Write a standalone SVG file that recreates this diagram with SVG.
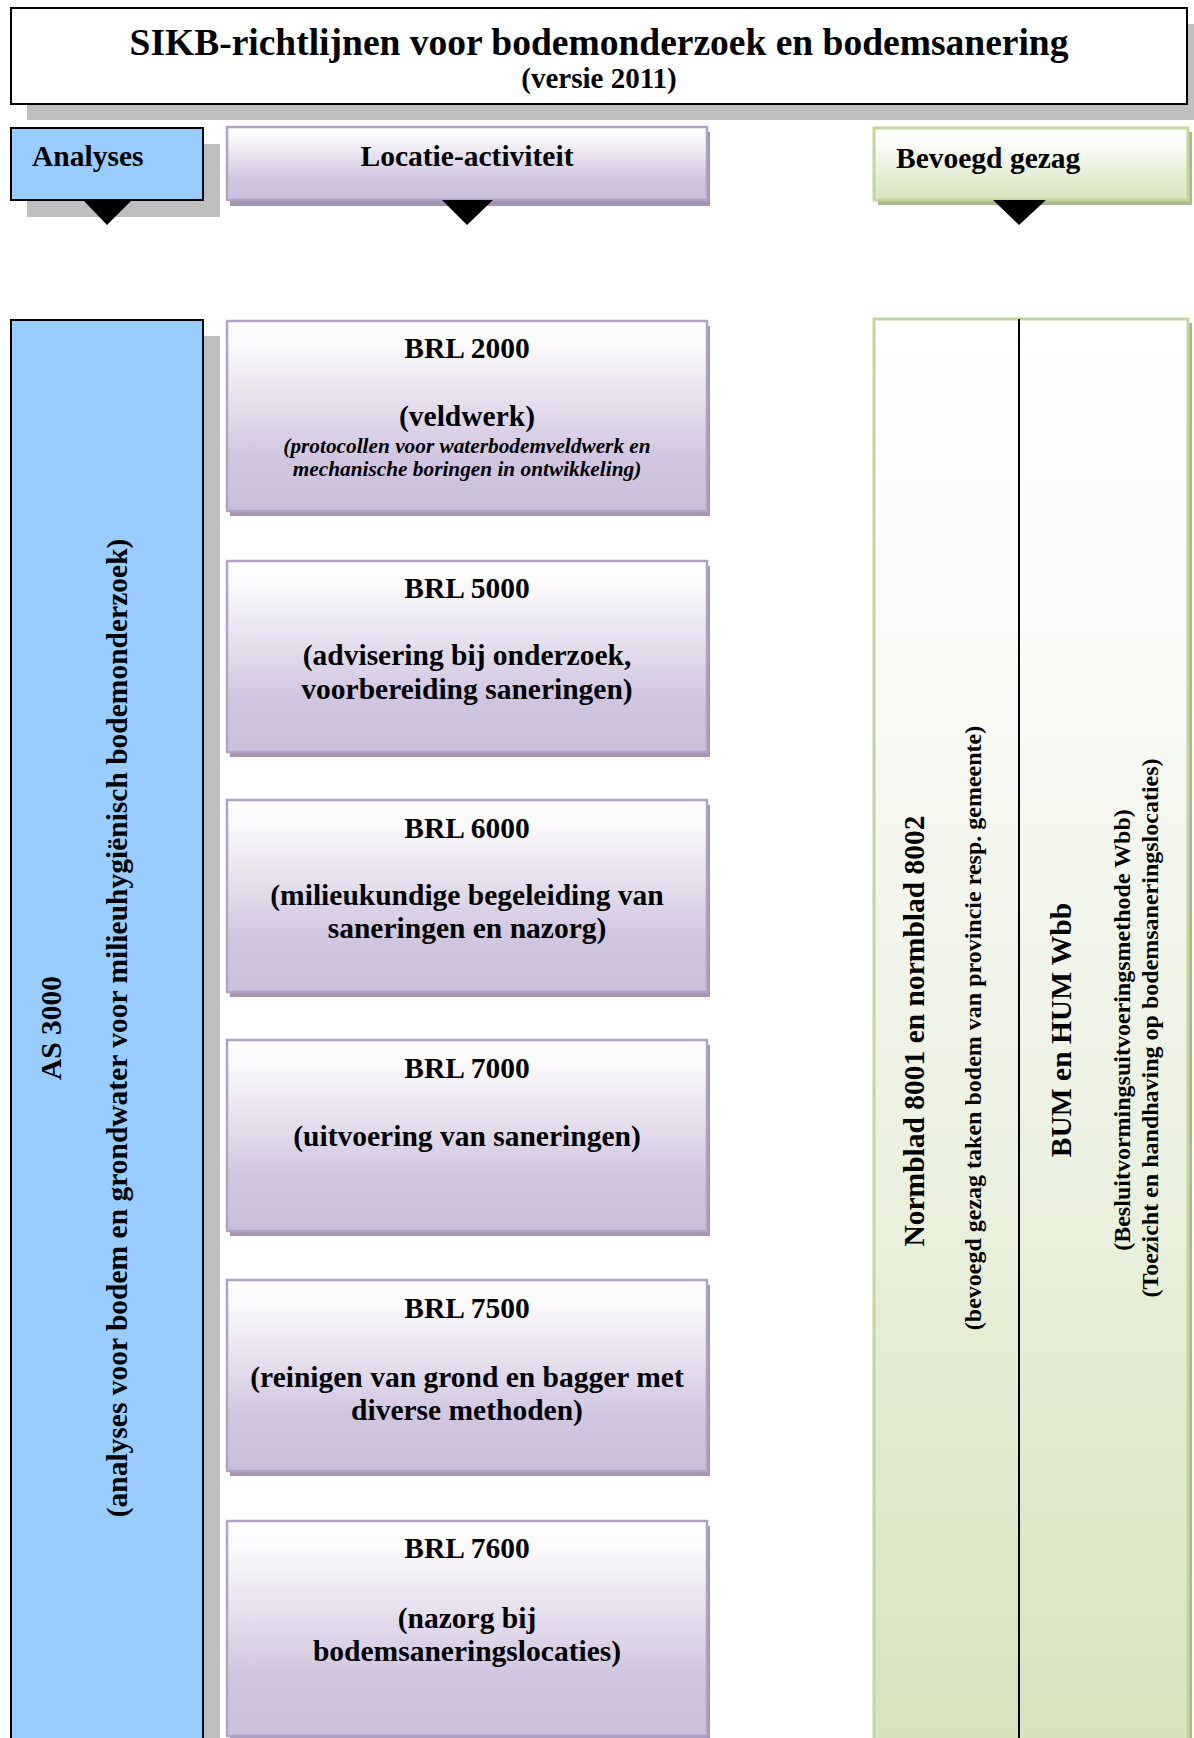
<svg xmlns="http://www.w3.org/2000/svg" width="1194" height="1738" viewBox="0 0 1194 1738">
<style>
text{font-family:"Liberation Serif","Times New Roman",serif;font-weight:bold;fill:#000}
.t{font-size:37.5px}
.sub{font-size:29px}
.h{font-size:29.5px}
.c{text-anchor:middle}
.it{font-size:21.3px;font-style:italic}
.sm{font-size:24px}
.gshadow{fill:#bfbfbf}
.blue{fill:#99ccff;stroke:#000;stroke-width:2}
.lav{fill:url(#gLav);stroke:#b3a2c7;stroke-width:2.5}
.lavsh{fill:#a396b3}
.grn{stroke:#c3d69b;stroke-width:3}
.grnsh{fill:#a9b98d}
.tri{fill:#000}
</style>
<defs>
<linearGradient id="gLav" x1="0" y1="0" x2="0" y2="1">
<stop offset="0" stop-color="#ffffff"/>
<stop offset="0.12" stop-color="#fbfafc"/>
<stop offset="0.72" stop-color="#d2c5df"/>
<stop offset="1" stop-color="#ccbfda"/>
</linearGradient>
<linearGradient id="gGrnH" x1="0" y1="0" x2="0" y2="1">
<stop offset="0" stop-color="#ffffff"/>
<stop offset="0.2" stop-color="#fbfcf8"/>
<stop offset="1" stop-color="#d7e4bd"/>
</linearGradient>
<linearGradient id="gGrnB" x1="0" y1="0" x2="0" y2="1">
<stop offset="0" stop-color="#ffffff"/>
<stop offset="0.2" stop-color="#fbfbf9"/>
<stop offset="0.6" stop-color="#ebf1df"/>
<stop offset="1" stop-color="#d6e3bc"/>
</linearGradient>
</defs>

<g id="title">
<rect class="gshadow" x="27" y="24" width="1176" height="96"/>
<rect x="11" y="8" width="1176" height="96" fill="#fff" stroke="#000" stroke-width="2"/>
<text class="t c" x="599" y="55">SIKB-richtlijnen voor bodemonderzoek en bodemsanering</text>
<text class="sub c" x="599" y="88">(versie 2011)</text>
</g>

<g id="hdr-analyses">
<rect class="gshadow" x="27" y="144" width="193" height="73"/>
<rect class="blue" x="11" y="128" width="192" height="72"/>
<text class="h" x="32" y="166">Analyses</text>
</g>

<g id="hdr-locatie">
<rect class="lavsh" x="230" y="132" width="480" height="74"/>
<rect class="lav" x="227" y="127" width="480" height="73"/>
<text class="h c" x="467" y="166">Locatie-activiteit</text>
</g>

<g id="hdr-bevoegd">
<rect class="grnsh" x="878" y="132" width="314" height="73"/>
<rect class="grn" x="874" y="128" width="314" height="72" fill="url(#gGrnH)"/>
<text class="h" x="896" y="168">Bevoegd gezag</text>
</g>

<g id="as3000">
<rect class="gshadow" x="27" y="336" width="193" height="1420"/>
<rect class="blue" x="11" y="320" width="192" height="1430"/>
<text class="h c" transform="translate(61,1028) rotate(-90)">AS 3000</text>
<text class="h c" transform="translate(127,1028) rotate(-90)">(analyses voor bodem en grondwater voor milieuhygiënisch bodemonderzoek)</text>
</g>

<g id="brl2000">
<rect class="lavsh" x="230" y="326" width="480" height="190"/>
<rect class="lav" x="227" y="321" width="480" height="190"/>
<text class="h c" x="467" y="358">BRL 2000</text>
<text class="h c" x="467" y="426">(veldwerk)</text>
<text class="it c" x="467" y="453">(protocollen voor waterbodemveldwerk en</text>
<text class="it c" x="467" y="476">mechanische boringen in ontwikkeling)</text>
</g>

<g id="brl5000">
<rect class="lavsh" x="230" y="566" width="480" height="191"/>
<rect class="lav" x="227" y="561" width="480" height="191"/>
<text class="h c" x="467" y="598">BRL 5000</text>
<text class="h c" x="467" y="665">(advisering bij onderzoek,</text>
<text class="h c" x="467" y="699">voorbereiding saneringen)</text>
</g>

<g id="brl6000">
<rect class="lavsh" x="230" y="805" width="480" height="192"/>
<rect class="lav" x="227" y="800" width="480" height="192"/>
<text class="h c" x="467" y="838">BRL 6000</text>
<text class="h c" x="467" y="905">(milieukundige begeleiding van</text>
<text class="h c" x="467" y="938">saneringen en nazorg)</text>
</g>

<g id="brl7000">
<rect class="lavsh" x="230" y="1045" width="480" height="191"/>
<rect class="lav" x="227" y="1040" width="480" height="191"/>
<text class="h c" x="467" y="1078">BRL 7000</text>
<text class="h c" x="467" y="1146">(uitvoering van saneringen)</text>
</g>

<g id="brl7500">
<rect class="lavsh" x="230" y="1285" width="480" height="191"/>
<rect class="lav" x="227" y="1280" width="480" height="191"/>
<text class="h c" x="467" y="1318">BRL 7500</text>
<text class="h c" x="467" y="1387">(reinigen van grond en bagger met</text>
<text class="h c" x="467" y="1420">diverse methoden)</text>
</g>

<g id="brl7600">
<rect class="lavsh" x="230" y="1526" width="480" height="214"/>
<rect class="lav" x="227" y="1521" width="480" height="215"/>
<text class="h c" x="467" y="1558">BRL 7600</text>
<text class="h c" x="467" y="1628">(nazorg bij</text>
<text class="h c" x="467" y="1661">bodemsaneringslocaties)</text>
</g>

<g id="bevoegd-kolom">
<rect class="grnsh" x="878" y="323" width="314" height="1420"/>
<rect class="grn" x="874" y="319" width="314" height="1430" fill="url(#gGrnB)"/>
<line x1="1019" y1="319" x2="1019" y2="1738" stroke="#000" stroke-width="2"/>
<text class="h c" transform="translate(924,1031) rotate(-90)">Normblad 8001 en normblad 8002</text>
<text class="sm c" transform="translate(981,1028) rotate(-90)">(bevoegd gezag taken bodem van provincie resp. gemeente)</text>
<text class="h c" transform="translate(1071,1030) rotate(-90)">BUM en HUM Wbb</text>
<text class="sm c" transform="translate(1130,1030) rotate(-90)">(Besluitvormingsuitvoeringsmethode Wbb)</text>
<text class="sm c" transform="translate(1158,1028) rotate(-90)">(Toezicht en handhaving op bodemsaneringslocaties)</text>
</g>

<g id="connectors">
<polygon class="tri" points="83,200 132,200 107,225"/>
<polygon class="tri" points="442,200 493,200 467,225"/>
<polygon class="tri" points="993,200 1046,200 1019,225"/>
</g>
</svg>
